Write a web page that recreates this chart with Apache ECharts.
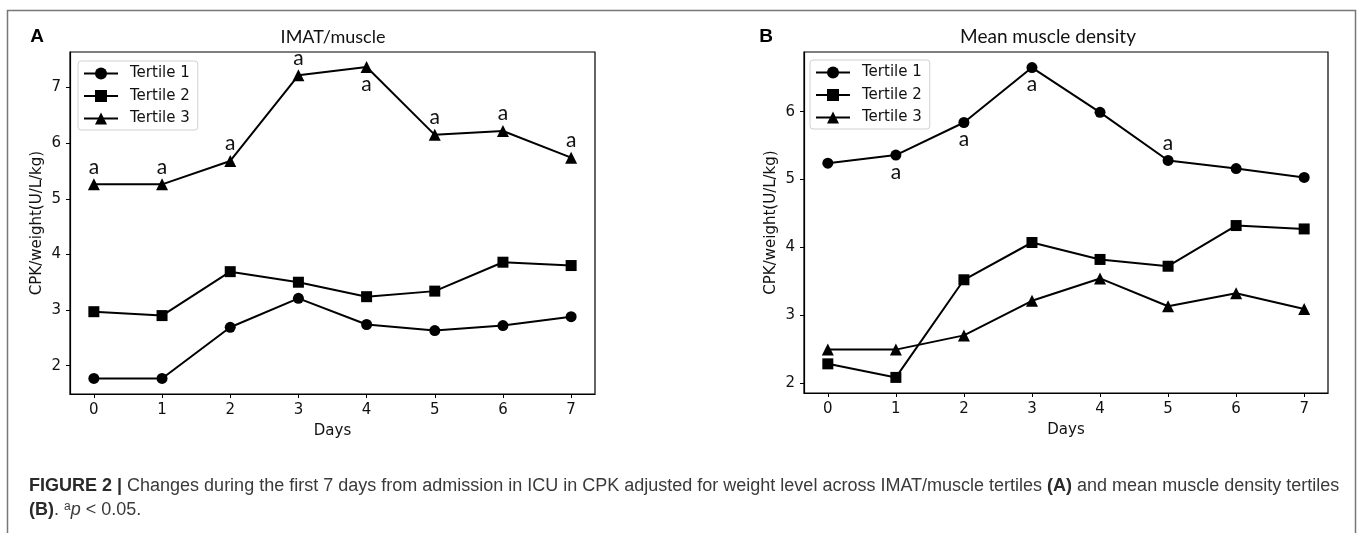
<!DOCTYPE html>
<html>
<head>
<meta charset="utf-8">
<script src="https://cdn.jsdelivr.net/npm/echarts@6/dist/echarts.min.js"></script>
<style>
  html, body { margin: 0; padding: 0; background: #fff; }
  #main { width: 1357px; height: 533px; }
</style>
</head>
<body>
<div id="main"></div>
<script>
// days on the x axis
const days = [0, 1, 2, 3, 4, 5, 6, 7];

// panel A: IMAT/muscle tertiles
const imatT1 = [1.77, 1.77, 2.69, 3.21, 2.74, 2.63, 2.72, 2.88];
const imatT2 = [2.97, 2.90, 3.69, 3.50, 3.24, 3.34, 3.86, 3.80];
const imatT3 = [5.26, 5.26, 5.68, 7.22, 7.37, 6.15, 6.22, 5.74];
// where the "a" mark sits for tertile 3 (p < 0.05)
const imatT3Sig = ['top', 'top', 'top', 'top', 'bottom', 'top', 'top', 'top'];

// panel B: mean muscle density tertiles
const densT1 = [5.24, 5.36, 5.84, 6.65, 5.99, 5.28, 5.16, 5.03];
const densT2 = [2.28, 2.08, 3.52, 4.07, 3.82, 3.72, 4.32, 4.27];
const densT3 = [2.49, 2.49, 2.70, 3.21, 3.54, 3.13, 3.32, 3.09];
const densT1Sig = [null, 'bottom', 'bottom', 'bottom', null, 'top', null, null];

const yTicksA = [2, 3, 4, 5, 6, 7];
const yTicksB = [2, 3, 4, 5, 6];
const names = ['Tertile 1', 'Tertile 2', 'Tertile 3'];

const MPL = 'DejaVu Sans, sans-serif';
const CAP = 'Liberation Sans, Arial, sans-serif';

function toData(vals, sig) {
  return days.map(function (d, i) {
    const item = { value: [d, vals[i]] };
    if (sig && sig[i]) {
      item.label = {
        show: true, position: sig[i], formatter: 'a', distance: 1,
        fontSize: 21, fontFamily: 'Lato, sans-serif', color: '#111'
      };
    }
    return item;
  });
}

function line(name, symbol, size, vals, idx, sig) {
  return {
    name: name, type: 'line', xAxisIndex: idx, yAxisIndex: idx,
    symbol: symbol, symbolSize: size, showAllSymbol: true,
    lineStyle: { color: '#000', width: 2 },
    itemStyle: { color: '#000' },
    emphasis: { disabled: true },
    data: toData(vals, sig)
  };
}

function xAxis(idx) {
  return {
    type: 'value', gridIndex: idx, min: -0.35, max: 7.35,
    name: 'Days', nameLocation: 'middle', nameGap: 30,
    nameTextStyle: { fontFamily: MPL, fontSize: 15, color: '#111' },
    axisLine: { show: true, onZero: false, lineStyle: { color: '#000', width: 1.2 } },
    axisTick: { show: true, customValues: days, length: 4, lineStyle: { color: '#000' } },
    axisLabel: { customValues: days, margin: 9, fontFamily: MPL, fontSize: 15, color: '#111' },
    splitLine: { show: false }
  };
}

function yAxis(idx, lo, hi, ticks) {
  return {
    type: 'value', gridIndex: idx, min: lo, max: hi,
    name: 'CPK/weight(U/L/kg)', nameLocation: 'middle', nameGap: 25,
    nameTextStyle: { fontFamily: MPL, fontSize: 15, color: '#111' },
    axisLine: { show: true, onZero: false, lineStyle: { color: '#000', width: 1.2 } },
    axisTick: { show: true, customValues: ticks, length: 4, lineStyle: { color: '#000' } },
    axisLabel: { customValues: ticks, margin: 9, fontFamily: MPL, fontSize: 15, color: '#111' },
    splitLine: { show: false }
  };
}

function legend(left, top) {
  return {
    data: names, orient: 'vertical', left: left, top: top,
    itemWidth: 34, itemHeight: 15, itemGap: 7.5,
    padding: [5, 8, 4, 5],
    backgroundColor: '#fff', borderColor: '#d0d0d0', borderWidth: 1, borderRadius: 3,
    selectedMode: false,
    textStyle: { fontFamily: MPL, fontSize: 15, color: '#111', padding: [0, 0, 0, 7] }
  };
}

const chart = echarts.init(document.getElementById('main'));
chart.setOption({
  animation: false,
  backgroundColor: '#fff',
  grid: [
    { left: 70, top: 52, width: 525, height: 342, show: true, borderColor: '#000', borderWidth: 1.2 },
    { left: 804, top: 52, width: 524, height: 341, show: true, borderColor: '#000', borderWidth: 1.2 }
  ],
  xAxis: [xAxis(0), xAxis(1)],
  yAxis: [yAxis(0, 1.49, 7.64, yTicksA), yAxis(1, 1.85, 6.88, yTicksB)],
  legend: [legend(78, 61), legend(810, 60)],
  series: [
    line(names[0], 'circle', 11, imatT1, 0),
    line(names[1], 'rect', 11, imatT2, 0),
    line(names[2], 'triangle', 12, imatT3, 0, imatT3Sig),
    line(names[0], 'circle', 11, densT1, 1, densT1Sig),
    line(names[1], 'rect', 11, densT2, 1),
    line(names[2], 'triangle', 12, densT3, 1)
  ],
  graphic: [
    { type: 'rect', silent: true, shape: { x: 7.5, y: 10.5, width: 1348, height: 540 },
      style: { fill: 'none', stroke: '#777', lineWidth: 1.5 } },
    { type: 'text', x: 37, y: 37, style: { text: 'A', fontFamily: CAP,
      fontWeight: 'bold', fontSize: 19, fill: '#000', align: 'center', verticalAlign: 'middle' } },
    { type: 'text', x: 333, y: 37, style: { text: 'IMAT/muscle', fontFamily: 'Lato, sans-serif',
      fontSize: 18, fill: '#111', align: 'center', verticalAlign: 'middle' } },
    { type: 'text', x: 766, y: 37, style: { text: 'B', fontFamily: CAP,
      fontWeight: 'bold', fontSize: 19, fill: '#000', align: 'center', verticalAlign: 'middle' } },
    { type: 'text', x: 1048, y: 37, style: { text: 'Mean muscle density', fontFamily: 'Lato, sans-serif',
      fontSize: 19, fill: '#111', align: 'center', verticalAlign: 'middle' } },
    { type: 'text', x: 29, y: 486, style: {
      text: '{b|FIGURE 2 |} Changes during the first 7 days from admission in ICU in CPK adjusted for weight level across IMAT/muscle tertiles {b|(A)} and mean muscle density tertiles',
      fontFamily: CAP, fontSize: 18, fill: '#3a3a3a',
      verticalAlign: 'middle',
      rich: { b: { fontWeight: 'bold', fontFamily: CAP, fontSize: 18, fill: '#2a2a2a' } } } },
    { type: 'text', x: 29, y: 510, style: {
      text: '{b|(B)}. {sup|a}{i|p} < 0.05.',
      fontFamily: CAP, fontSize: 18, fill: '#3a3a3a',
      verticalAlign: 'middle',
      rich: {
        b: { fontWeight: 'bold', fontFamily: CAP, fontSize: 18, fill: '#2a2a2a' },
        sup: { fontFamily: CAP, fontSize: 12, verticalAlign: 'top', fill: '#3a3a3a' },
        i: { fontStyle: 'italic', fontFamily: CAP, fontSize: 18, fill: '#3a3a3a' }
      } } }
  ]
});
</script>
</body>
</html>
